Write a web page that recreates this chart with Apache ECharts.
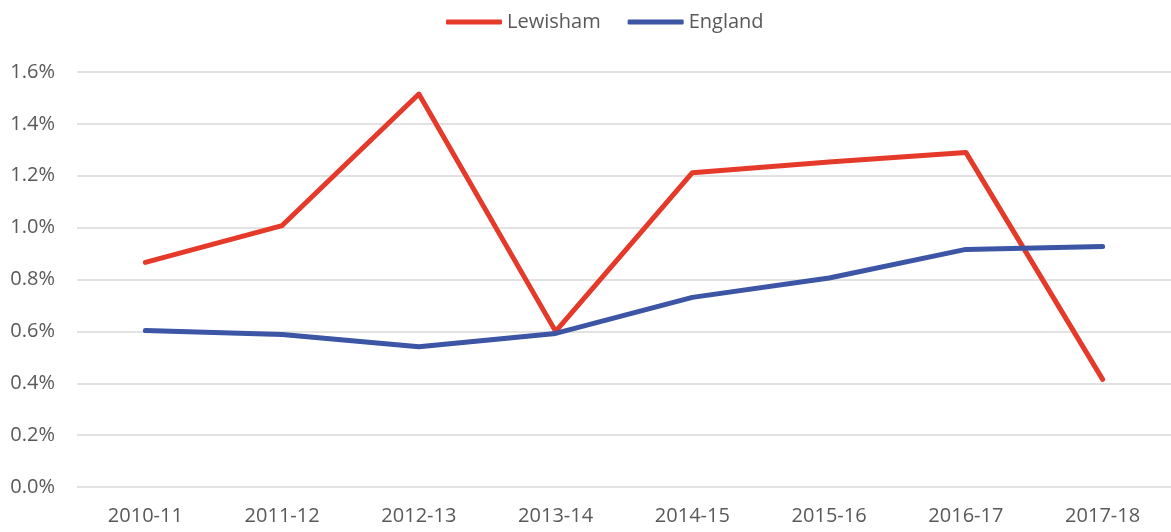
<!DOCTYPE html>
<html>
<head>
<meta charset="utf-8">
<script src="https://cdn.jsdelivr.net/npm/echarts@6/dist/echarts.min.js"></script>
<style>
  html, body { margin: 0; padding: 0; background: #fff; }
  #chart { width: 1171px; height: 532px; }
</style>
</head>
<body>
<div id="chart"></div>
<script>
const years = ['2010-11', '2011-12', '2012-13', '2013-14', '2014-15', '2015-16', '2016-17', '2017-18'];
const lewisham = [0.866, 1.008, 1.515, 0.600, 1.212, 1.253, 1.290, 0.415];
const england = [0.603, 0.588, 0.541, 0.592, 0.731, 0.806, 0.916, 0.927];

const chart = echarts.init(document.getElementById('chart'));

const font = '"Open Sans", "Liberation Sans", sans-serif';
const textColor = '#595959';

chart.setOption({
  animation: false,
  textStyle: { fontFamily: font },
  legend: {
    top: 7,
    left: 441,
    itemWidth: 56,
    itemHeight: 5,
    itemGap: 27,
    icon: 'roundRect',
    textStyle: { color: textColor, fontSize: 20, fontFamily: font },
    data: ['Lewisham', 'England']
  },
  grid: {
    left: 77,
    top: 72,
    width: 1099,
    height: 415,
    containLabel: false
  },
  xAxis: {
    type: 'category',
    data: years,
    boundaryGap: true,
    axisLine: { show: false },
    axisTick: { show: false },
    axisLabel: { color: textColor, fontSize: 20, margin: 19, fontFamily: font }
  },
  yAxis: {
    type: 'value',
    min: 0,
    max: 1.6,
    interval: 0.2,
    axisLine: { show: false },
    axisTick: { show: false },
    axisLabel: {
      color: textColor,
      fontSize: 20,
      margin: 22,
      fontFamily: font,
      formatter: v => v.toFixed(1) + '%'
    },
    splitLine: { lineStyle: { color: '#d9d9d9', width: 1.5 } }
  },
  series: [
    {
      name: 'Lewisham',
      type: 'line',
      data: lewisham,
      symbol: 'none',
      lineStyle: { color: '#e5392a', width: 5, cap: 'round', join: 'round' },
      itemStyle: { color: '#e5392a' }
    },
    {
      name: 'England',
      type: 'line',
      data: england,
      symbol: 'none',
      lineStyle: { color: '#3c55a5', width: 5, cap: 'round', join: 'round' },
      itemStyle: { color: '#3c55a5' }
    }
  ]
});
</script>
</body>
</html>
